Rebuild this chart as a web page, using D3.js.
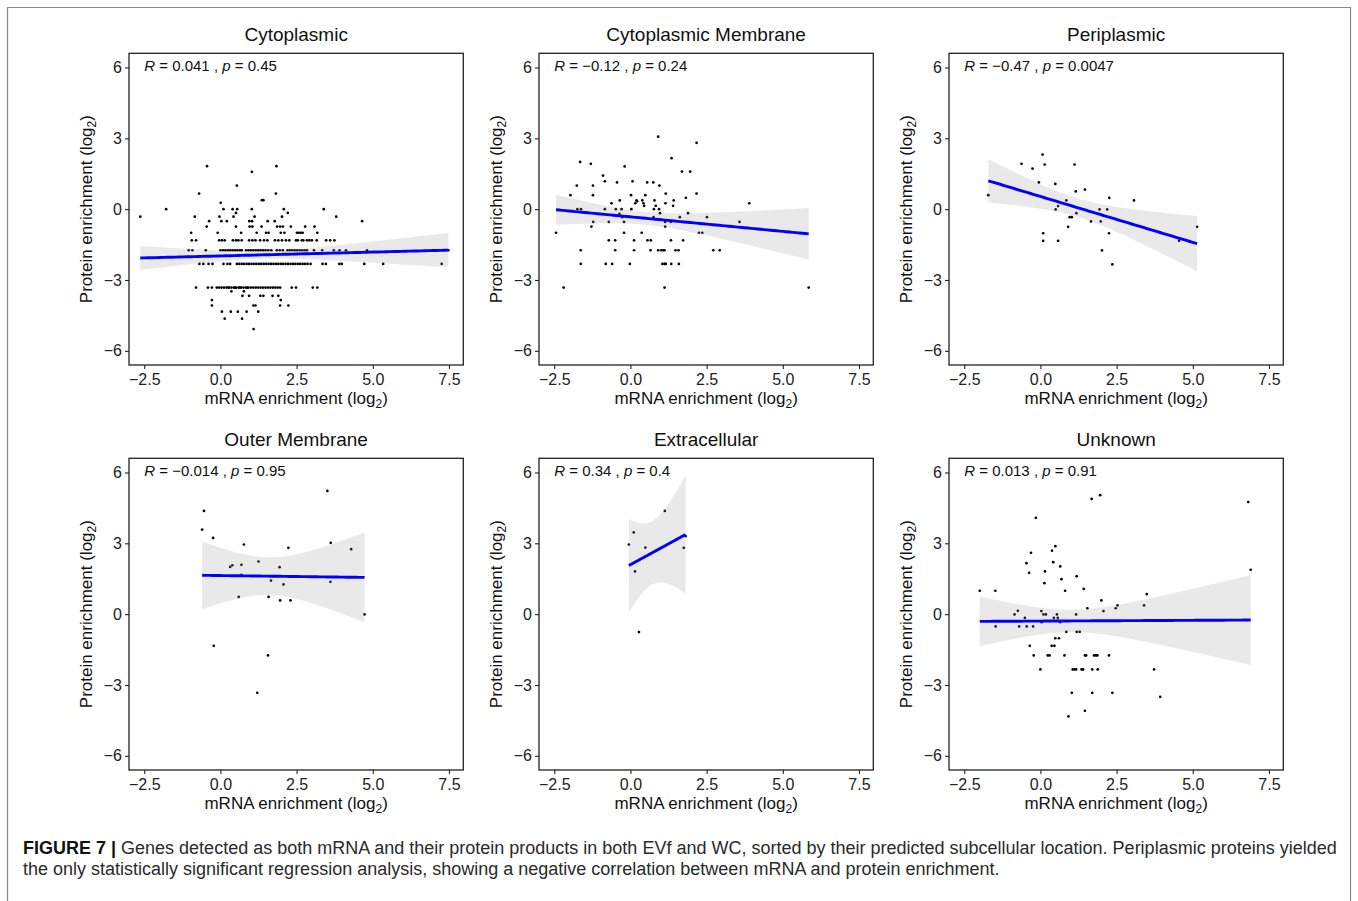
<!DOCTYPE html>
<html><head><meta charset="utf-8">
<script src="https://cdn.jsdelivr.net/npm/d3@7"></script>
<style>
body{margin:0;background:#fff;}
svg{display:block;font-family:"Liberation Sans",Arial,Helvetica,sans-serif;}
</style>
</head><body>
<svg id="chart" width="1358" height="901"></svg>
<script>
// ---------------- DATA ----------------
const titles = ["Cytoplasmic","Cytoplasmic Membrane","Periplasmic","Outer Membrane","Extracellular","Unknown"];
const rValues = ["0.041","\u22120.12","\u22120.47","\u22120.014","0.34","0.013"];
const pValues = ["0.45","0.24","0.0047","0.95","0.4","0.91"];
const xTicks = [-2.5, 0, 2.5, 5, 7.5];
const yTicks = [-6, -3, 0, 3, 6];
const xLabel = "mRNA enrichment (log";
const yLabel = "Protein enrichment (log";

const cytoplasmic = [
 [-0.44,1.82],[1.84,1.82],[1.03,1.58],[0.54,1.0],[-0.70,0.66],[1.82,0.66],[1.36,0.38],[1.41,0.38],[0.01,0.27],
 [-1.78,0],[0.10,0],[0.40,0],[0.55,0],[1.03,0],[2.08,0],[3.39,0],
 [0.51,-0.16],[2.21,-0.16],
 [-2.63,-0.32],[-0.84,-0.32],[-0.03,-0.32],[0.43,-0.32],[1.12,-0.32],[2.02,-0.32],[3.80,-0.32],
 [-0.37,-0.51],[0.03,-0.51],[0.21,-0.51],[0.95,-0.51],[1.04,-0.51],[1.55,-0.51],[1.78,-0.51],[4.65,-0.51],
 [-0.45,-0.74],[0.51,-0.74],[0.96,-0.74],[1.05,-0.74],[1.35,-0.74],[1.86,-0.74],[1.96,-0.74],[2.05,-0.74],[2.31,-0.74],[2.78,-0.74],[3.09,-0.74],
 [-0.96,-1.0],[-0.09,-1.0],[0.68,-1.0],[1.19,-1.0],[1.50,-1.0],[1.58,-1.0],[1.98,-1.0],[2.10,-1.0],[2.51,-1.0],[2.64,-1.0],[3.18,-1.0],
 [2.57,-1.0],[2.70,-1.0],
 [-0.94,-1.32],[-0.80,-1.32],[-0.04,-1.32],[0.05,-1.32],[0.14,-1.32],[0.41,-1.32],[0.51,-1.32],[0.59,-1.32],[0.70,-1.32],[0.94,-1.32],
 [1.05,-1.32],[1.15,-1.32],[1.30,-1.32],[1.43,-1.32],[1.54,-1.32],[1.79,-1.32],[1.90,-1.32],[2.02,-1.32],[2.15,-1.32],[2.26,-1.32],
 [2.54,-1.32],[2.67,-1.32],[2.84,-1.32],[3.00,-1.32],[3.16,-1.32],[3.47,-1.32],[3.60,-1.32],[3.74,-1.32],
 [2.48,-1.32],[2.72,-1.32],[2.92,-1.32],
 [-1.04,-1.74],[-0.92,-1.74],[-0.48,-1.74],[0.00,-1.74],[0.08,-1.74],[0.16,-1.74],[0.24,-1.74],[0.32,-1.74],[0.40,-1.74],[0.48,-1.74],
 [0.56,-1.74],[0.64,-1.74],[0.70,-1.74],[0.84,-1.74],[0.92,-1.74],[1.00,-1.74],[1.08,-1.74],[1.16,-1.74],[1.24,-1.74],[1.32,-1.74],
 [1.40,-1.74],[1.48,-1.74],[1.57,-1.74],[1.67,-1.74],[1.85,-1.74],[1.95,-1.74],[2.05,-1.74],[2.20,-1.74],[2.28,-1.74],[2.36,-1.74],
 [2.44,-1.74],[2.52,-1.74],[2.60,-1.74],[2.68,-1.74],[2.76,-1.74],[2.84,-1.74],[3.07,-1.74],[3.34,-1.74],[3.72,-1.74],[3.91,-1.74],
 [4.12,-1.74],[4.81,-1.74],[7.48,-1.74],
 [-0.69,-2.32],[-0.56,-2.32],[-0.39,-2.32],[-0.26,-2.32],[0.10,-2.32],[0.23,-2.32],[0.32,-2.32],[0.54,-2.32],[0.62,-2.32],[0.70,-2.32],
 [0.78,-2.32],[0.86,-2.32],[0.94,-2.32],[1.02,-2.32],[1.10,-2.32],[1.18,-2.32],[1.26,-2.32],[1.34,-2.32],[1.42,-2.32],[1.50,-2.32],
 [1.58,-2.32],[1.66,-2.32],[1.74,-2.32],[1.82,-2.32],[1.90,-2.32],[1.98,-2.32],[2.06,-2.32],[2.14,-2.32],[2.22,-2.32],[2.30,-2.32],
 [2.38,-2.32],[2.46,-2.32],[2.54,-2.32],[2.62,-2.32],[2.70,-2.32],[2.78,-2.32],[2.86,-2.32],[2.96,-2.32],[3.35,-2.32],[3.46,-2.32],
 [3.90,-2.32],[3.98,-2.32],[4.72,-2.32],[5.34,-2.32],[7.26,-2.32],
 [-0.80,-3.32],[-0.41,-3.32],[-0.28,-3.32],[-0.12,-3.32],[-0.04,-3.32],[0.04,-3.32],[0.12,-3.32],[0.20,-3.32],[0.28,-3.32],[0.36,-3.32],
 [0.44,-3.32],[0.52,-3.32],[0.60,-3.32],[0.68,-3.32],[0.76,-3.32],[0.84,-3.32],[0.92,-3.32],[1.00,-3.32],[1.08,-3.32],[1.16,-3.32],
 [1.24,-3.32],[1.32,-3.32],[1.40,-3.32],[1.48,-3.32],[1.56,-3.32],[1.64,-3.32],[1.72,-3.32],[1.80,-3.32],[1.88,-3.32],[1.96,-3.32],
 [2.34,-3.32],[2.48,-3.32],[3.03,-3.32],[3.18,-3.32],
 [0.26,-3.32],[0.48,-3.32],[0.64,-3.32],[0.88,-3.32],
 [0.36,-3.48],[0.77,-3.48],
 [0.72,-3.67],[0.94,-3.67],[1.31,-3.67],[1.41,-3.67],[1.71,-3.67],[1.90,-3.67],
 [-0.28,-3.85],[1.98,-3.85],
 [-0.28,-4.08],[1.08,-4.08],[1.15,-4.08],[1.96,-4.08],[2.23,-4.08],
 [0.05,-4.34],[0.34,-4.34],[0.57,-4.34],[0.86,-4.34],[1.24,-4.34],
 [0.14,-4.64],[0.71,-4.64],
 [1.09,-5.08]
];

const cytoplasmicMembrane = [
 [-2.44,-1.00],[-1.97,0.59],[-1.76,1.00],[-1.74,0],[-1.62,0],[-1.65,2.00],[-1.63,-1.74],[-1.63,-2.32],
 [-1.30,1.92],[-1.28,-0.74],[-1.23,0.59],[-1.23,1.00],[-1.22,-0.54],[-0.90,1.42],[-0.84,1.18],[-0.84,0],
 [-0.81,-2.32],[-0.71,-0.54],[-0.71,-1.32],[-0.62,0.25],[-0.60,-2.32],[-0.50,-1.32],[-0.50,-1.74],[-0.48,0],
 [-0.44,1.13],[-0.35,0.37],[-0.36,-0.20],[-0.29,0],[-0.27,-0.34],[-0.21,-0.54],[-0.21,-1.00],[-0.19,1.81],
 [-0.02,-2.32],[0.02,0.59],[0.03,0],[0.07,1.18],[0.12,-1.32],[0.12,-1.74],[0.16,0.25],[0.20,0.37],[0.22,0.33],
 [0.37,-1.00],[0.39,0.37],[0.43,0.25],[0.45,0.14],[0.49,0.59],[0.55,1.13],[0.56,-1.32],[0.67,-1.32],[0.66,-1.74],
 [0.75,1.13],[0.77,0],[0.79,0.37],[0.76,-0.34],[0.83,0.14],[0.91,-1.74],[0.91,3.07],[0.95,1.00],[0.94,0],[0.97,-0.17],
 [1.01,-1.74],[1.05,-2.32],[1.12,-2.32],[1.16,-2.32],[1.08,-1.74],[1.12,-1.74],[1.14,-0.74],[1.14,-0.54],[1.16,0.66],[1.15,0.25],
 [1.33,-1.32],[1.32,-0.54],[1.35,2.16],[1.34,-2.32],[1.40,0.14],[1.42,0.37],[1.48,-1.74],[1.58,-1.74],[1.59,-2.32],[1.62,-0.34],
 [1.69,1.59],[1.73,-1.32],[1.82,0.48],[1.89,-0.17],[1.96,1.59],[2.17,2.81],[2.17,0.66],[2.25,-1.00],[2.36,-1.00],[2.51,-0.34],
 [2.72,-1.74],[2.93,-1.74],[3.58,-0.54],[3.90,0.25],[-2.19,-3.32],[1.12,-3.32],[5.85,-3.32]
];

const periplasmic = [
 [-1.71,0.59],[-0.62,1.92],[-0.26,1.72],[-0.05,1.13],[0.07,2.31],[0.14,1.89],[0.09,-1.02],[0.09,-1.34],
 [0.49,1.07],[0.50,-0.01],[0.58,0.13],[0.58,-1.34],[0.85,0.37],[0.91,-0.75],[0.96,-0.34],[1.03,-0.34],
 [1.12,1.89],[1.16,0.75],[1.18,-0.17],[1.46,0.83],[1.66,-0.52],[1.94,-0.01],[1.98,-0.52],[2.02,-1.75],
 [2.19,-0.01],[2.25,-1.02],[2.26,0.48],[2.36,-2.34],[3.07,0.37],[4.55,-1.34],[5.14,-0.75]
];

const outerMembrane = [
 [-0.54,4.37],[-0.60,3.58],[-0.24,3.23],[-0.22,-1.34],[0.32,2.00],[0.39,2.07],[0.69,2.09],[0.69,1.66],
 [0.60,0.73],[0.77,2.95],[1.25,2.23],[1.21,-3.33],[1.58,0.73],[1.56,-1.75],[1.66,1.42],[1.94,1.99],
 [1.96,0.58],[2.07,1.26],[2.23,2.81],[2.30,0.58],[3.51,5.22],[3.62,3.02],[3.61,1.37],[4.29,2.75],[4.73,-0.01]
];

const extracellular = [
 [-0.05,2.95],[0.11,3.46],[0.15,1.81],[0.28,-0.76],[0.49,2.82],[1.13,4.37],[1.75,2.81],[1.81,3.30]
];

const unknown = [
 [-1.99,0.99],[-1.48,0.99],[-1.47,-0.52],[-0.85,-0.01],[-0.74,0.14],[-0.70,-0.52],[-0.51,-0.16],[-0.46,2.16],
 [-0.45,-0.52],[-0.37,1.75],[-0.35,-1.34],[-0.31,2.60],[-0.24,-0.52],[-0.22,-1.75],[-0.15,4.08],[0.00,-2.34],
 [0.03,0.13],[0.04,-0.34],[0.10,-0.01],[0.13,1.31],[0.15,1.81],[0.18,-0.01],[0.24,-1.75],[0.37,-1.34],
 [0.38,2.69],[0.42,2.20],[0.44,-0.16],[0.46,-1.34],[0.49,2.88],[0.49,-1.02],[0.54,-0.01],[0.57,-0.16],
 [0.61,-1.02],[0.65,2.02],[0.65,-0.34],[0.69,1.48],[0.79,-1.75],[0.81,0.99],[0.85,-0.75],[0.92,-4.33],
 [1.03,-3.33],[1.06,-2.34],[1.17,-2.34],[1.17,-0.01],[1.19,1.61],[1.19,-0.75],[1.29,-0.75],[1.35,-2.34],
 [1.42,1.07],[1.46,-1.75],[1.46,-4.09],[1.54,0.25],[1.68,4.88],[1.70,-3.33],[1.70,-2.34],[1.76,-1.75],
 [1.87,-1.75],[1.88,-2.34],[1.96,5.04],[2.00,0.58],[2.07,0.13],[2.25,-1.75],[2.36,-3.33],[2.47,0.25],
 [2.53,0.37],[3.40,0.37],[3.49,0.85],[3.73,-2.34],[3.93,-3.50],[6.82,4.75],[6.90,1.88],
 [0.30,-1.75],[1.50,-1.75],[1.82,-1.75],[1.12,-2.34],[1.40,-2.34]
];

const panelData = [cytoplasmic, cytoplasmicMembrane, periplasmic, outerMembrane, extracellular, unknown];

const caption1 = "Genes detected as both mRNA and their protein products in both EVf and WC, sorted by their predicted subcellular location. Periplasmic proteins yielded";
const caption2 = "the only statistically significant regression analysis, showing a negative correlation between mRNA and protein enrichment.";

// ---------------- LAYOUT ----------------
const colLeft = [129, 539, 949];
const rowTop = [53.3, 458.3];
const pw = 334.3, ph = 311.7;

const svg = d3.select("#chart");

svg.append("path")
  .attr("d", "M7.5,901 V7.5 H1350.5 V901")
  .attr("fill", "none").attr("stroke", "#8a8a8a").attr("stroke-width", 1.2);

const x = d3.scaleLinear().domain([-3.0, 7.97]).range([0, pw]);
const y = d3.scaleLinear().domain([-6.6, 6.6]).range([ph, 0]);
const fmtX = d => (d === 0 ? "0.0" : d.toFixed(1)).replace("-", "\u2212");
const fmtY = d => String(d).replace("-", "\u2212");

function tq975(df) { // Cornish-Fisher expansion of Student t 0.975 quantile
  const z = 1.959964;
  return z + (z**3 + z) / (4*df) + (5*z**5 + 16*z**3 + 3*z) / (96*df*df)
    + (3*z**7 + 19*z**5 + 17*z**3 - 15*z) / (384*df**3);
}
function lmFit(data) {
  const n = data.length;
  const mx = d3.mean(data, d => d[0]), my = d3.mean(data, d => d[1]);
  let sxx = 0, sxy = 0;
  data.forEach(d => { sxx += (d[0]-mx)**2; sxy += (d[0]-mx)*(d[1]-my); });
  const b = sxy / sxx, a = my - b*mx;
  let sse = 0; data.forEach(d => { sse += (d[1] - a - b*d[0])**2; });
  const s = Math.sqrt(sse / (n-2)), t = tq975(n-2);
  const [x0, x1] = d3.extent(data, d => d[0]);
  const grid = d3.range(80).map(i => x0 + (x1-x0)*i/79);
  return grid.map(xv => {
    const yh = a + b*xv, se = s*Math.sqrt(1/n + (xv-mx)**2/sxx);
    return {x: xv, y: yh, lo: yh - t*se, hi: yh + t*se};
  });
}

titles.forEach((title, i) => {
  const col = i % 3, row = Math.floor(i / 3);
  const g = svg.append("g").attr("transform", `translate(${colLeft[col]},${rowTop[row]})`);
  const data = panelData[i];

  g.append("g").selectAll("circle").data(data).join("circle")
    .attr("cx", d => x(d[0])).attr("cy", d => y(d[1])).attr("r", 1.35).attr("fill", "#000");

  const fit = lmFit(data);
  g.append("path").datum(fit)
    .attr("d", d3.area().x(d => x(d.x)).y0(d => y(d.lo)).y1(d => y(d.hi)))
    .attr("fill", "#999999").attr("fill-opacity", 0.22);
  g.append("path").datum(fit)
    .attr("d", d3.line().x(d => x(d.x)).y(d => y(d.y)))
    .attr("fill", "none").attr("stroke", "#0000ff").attr("stroke-width", 2.9);

  const ax = g.append("g").attr("transform", `translate(0,${ph})`)
    .call(d3.axisBottom(x).tickValues(xTicks).tickFormat(fmtX).tickSize(4).tickPadding(4.5));
  const ay = g.append("g")
    .call(d3.axisLeft(y).tickValues(yTicks).tickFormat(fmtY).tickSize(4).tickPadding(3));
  [ax, ay].forEach(a => {
    a.select(".domain").remove();
    a.selectAll("line").attr("stroke", "#222").attr("stroke-width", 1.1);
    a.selectAll("text").attr("fill", "#222").style("font-size", "16px")
      .style("font-family", "'Liberation Sans',Arial,sans-serif");
  });

  g.append("rect").attr("x", 0).attr("y", 0).attr("width", pw).attr("height", ph)
    .attr("fill", "none").attr("stroke", "#222").attr("stroke-width", 1.3);

  g.append("text").attr("x", pw/2).attr("y", -12).attr("text-anchor", "middle")
    .style("font-size", "19px").attr("fill", "#111").text(title);

  const lab = g.append("text").attr("x", x(-2.5)).attr("y", y(6) + 3.8)
    .style("font-size", "15px").attr("fill", "#111");
  lab.append("tspan").style("font-style", "italic").text("R");
  lab.append("tspan").text(" = " + rValues[i] + " , ");
  lab.append("tspan").style("font-style", "italic").text("p");
  lab.append("tspan").text(" = " + pValues[i]);

  const xt = g.append("text").attr("x", pw/2).attr("y", ph + 39.5).attr("text-anchor", "middle")
    .style("font-size", "17px").attr("fill", "#111");
  xt.append("tspan").text(xLabel);
  xt.append("tspan").attr("dy", 4).style("font-size", "12px").text("2");
  xt.append("tspan").attr("dy", -4).text(")");

  const yt = g.append("text").attr("transform", `translate(-37,${ph/2}) rotate(-90)`)
    .attr("text-anchor", "middle").style("font-size", "17px").attr("fill", "#111");
  yt.append("tspan").text(yLabel);
  yt.append("tspan").attr("dy", 4).style("font-size", "12px").text("2");
  yt.append("tspan").attr("dy", -4).text(")");
});

// caption
const cap = svg.append("g").attr("fill", "#2a2a2a");
const c1 = cap.append("text").attr("x", 23).attr("y", 854).style("font-size", "15px");
c1.append("tspan").style("font-weight", "bold").attr("fill", "#111").text("FIGURE 7 | ");
c1.append("tspan").text(caption1);
const c2 = cap.append("text").attr("x", 23).attr("y", 875).style("font-size", "15px").text(caption2);
const w1 = c1.node().getComputedTextLength();
const fs = 15 * (1338 - 23) / w1;
c1.style("font-size", fs + "px");
c2.style("font-size", fs + "px");
</script>
</body></html>
